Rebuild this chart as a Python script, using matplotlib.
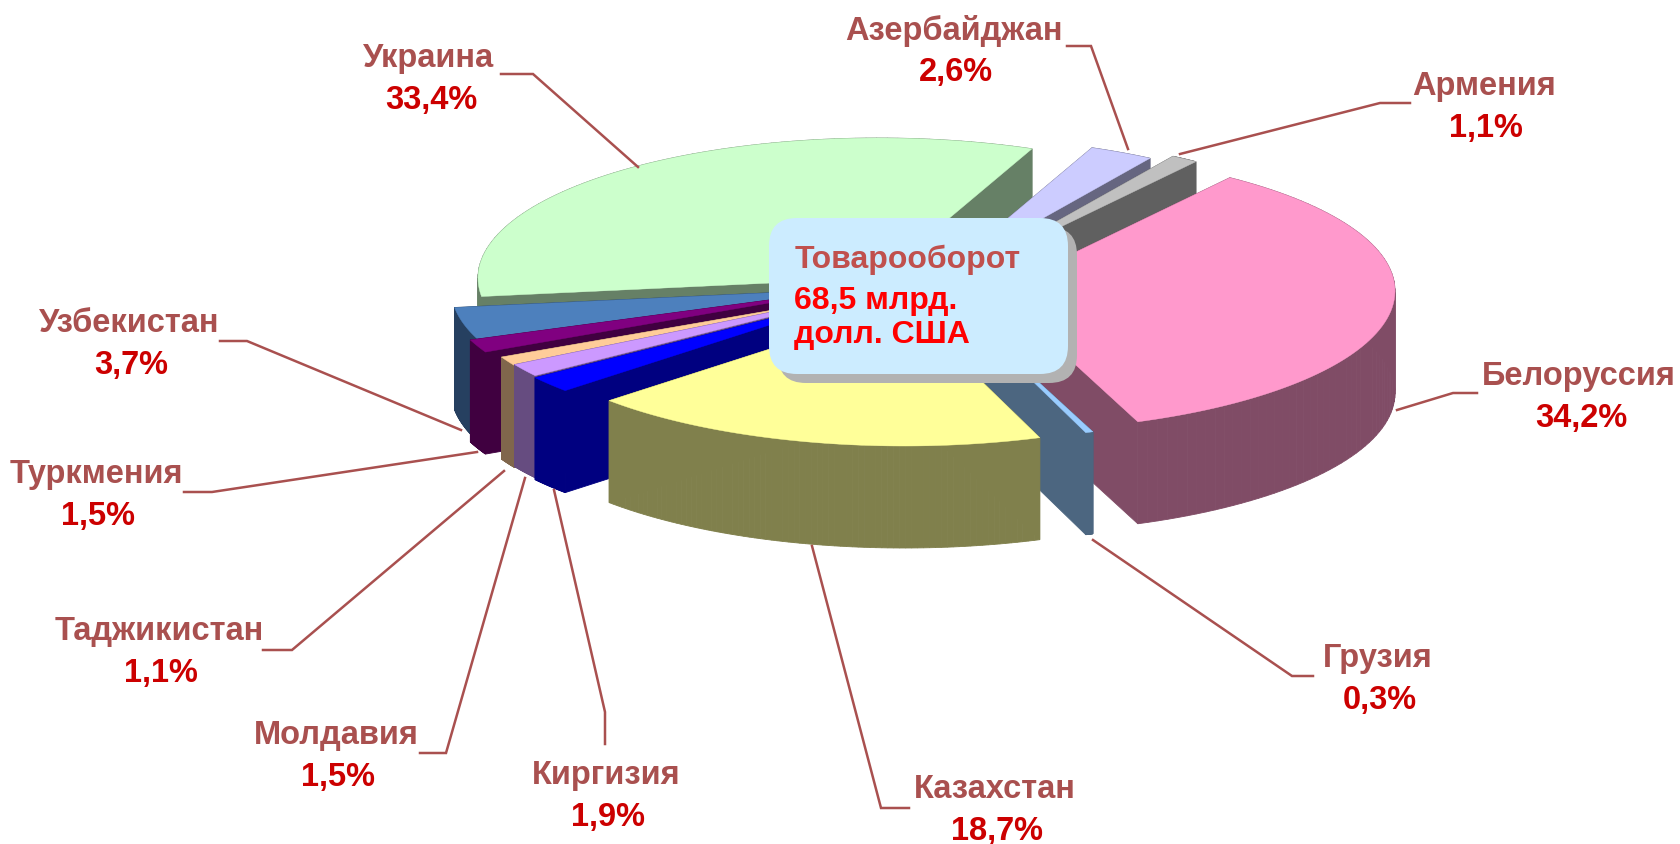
import numpy as np
import matplotlib
matplotlib.use("Agg")
import matplotlib.pyplot as plt
from matplotlib.patches import FancyBboxPatch

plt.rcParams['font.family'] = ['Liberation Sans', 'DejaVu Sans']

# Trade turnover shares, clockwise from Armenia
countries = ["Армения", "Белоруссия", "Грузия", "Казахстан", "Киргизия", "Молдавия",
             "Таджикистан", "Туркмения", "Узбекистан", "Украина", "Азербайджан"]
shares = [1.1, 34.2, 0.3, 18.7, 1.9, 1.5, 1.1, 1.5, 3.7, 33.4, 2.6]
total_title = "Товарооборот"
total_lines = "68,5 млрд.\nдолл. США"

# Styling
top_colors = ["#C0C0C0", "#FF99CC", "#99CCFF", "#FFFF99", "#0000FF", "#CC99FF",
              "#FFCC99", "#800080", "#4D80BD", "#CCFFCC", "#CCCCFF"]
side_colors = ["#606060", "#804C66", "#4C6680", "#80804C", "#000080", "#664C80",
               "#80664C", "#400040", "#264060", "#668066", "#666680"]
# where each exploded slice sits (apex, pixels)
apex = [(961, 276), (995, 292), (950, 302), (904, 307), (860, 297), (860, 295),
        (860, 296), (844, 291), (851, 290), (878, 279), (938, 278)]
# back to front
draw_order = [9, 10, 0, 1, 2, 8, 7, 6, 5, 4, 3]
label_pos = [(1484, 86), (1579, 377), (1378, 659), (995, 790), (606, 776), (336, 736),
             (159, 632), (96, 475), (129, 324), (429, 58), (954, 31)]
leaders = [
    [(1410, 104), (1380, 104), (1180, 155)],
    [(1477, 394), (1453, 394), (1397, 411)],
    [(1313, 677), (1292, 677), (1093, 541)],
    [(909, 809), (881, 809), (812, 547)],
    [(605, 745), (605, 713), (554, 491)],
    [(420, 754), (446, 754), (525, 479)],
    [(263, 651), (292, 651), (504, 472)],
    [(184, 493), (212, 493), (477, 453)],
    [(220, 342), (247, 342), (461, 431)],
    [(501, 75), (533, 75), (638, 168)],
    [(1067, 47), (1091, 47), (1128, 150)],
]
RX, RY, DEPTH = 400, 140, 102
START = 58
LABEL_COLOR = "#A9504F"
VALUE_COLOR = "#CC0000"
FS = 23.5

fig = plt.figure(figsize=(16.81, 8.45), dpi=100)
ax = fig.add_axes([0, 0, 1, 1])
ax.set_xlim(0, 1681)
ax.set_ylim(845, 0)
ax.axis("off")

# slice boundaries, going clockwise
ends = START - np.cumsum(shares) * 3.6
starts = np.concatenate([[START], ends[:-1]])

for i in draw_order:
    t = np.radians(np.linspace(starts[i], ends[i], 80))
    cx, cy = apex[i]
    px = np.concatenate([[cx], cx + RX * np.cos(t)])
    py = np.concatenate([[cy], cy - RY * np.sin(t)])
    # side walls: every outline segment pushed down by the depth
    for j in range(len(px)):
        k = (j + 1) % len(px)
        ax.fill([px[j], px[k], px[k], px[j]],
                [py[j], py[k], py[k] + DEPTH, py[j] + DEPTH],
                color=side_colors[i], lw=0.6, zorder=2)
    ax.fill(px, py, color=top_colors[i], lw=0.3, zorder=2)

for pts in leaders:
    xs, ys = zip(*pts)
    ax.plot(xs, ys, color=LABEL_COLOR, lw=1.8, zorder=3, solid_joinstyle="miter")

for name, share, (x, y) in zip(countries, shares, label_pos):
    ax.text(x, y, name, color=LABEL_COLOR, fontsize=FS, fontweight="bold",
            ha="center", va="center", zorder=5)
    ax.text(x + 2, y + 42, f"{share:.1f}%".replace(".", ","), color=VALUE_COLOR, fontsize=FS,
            fontweight="bold", ha="center", va="center", zorder=5)

# callout over the middle of the pie
box = dict(boxstyle="round,pad=0,rounding_size=28", lw=0)
ax.add_patch(FancyBboxPatch((778, 228), 299, 156, fc="#B2B2B2", zorder=6, **box))
ax.add_patch(FancyBboxPatch((769, 219), 299, 156, fc="#CCECFF", zorder=7, **box))
ax.text(795, 260, total_title, color="#C0504D", fontsize=23, fontweight="bold",
        ha="left", va="center", zorder=8)
ax.text(794, 318, total_lines, color="#FF0000", fontsize=23, fontweight="bold",
        ha="left", va="center", linespacing=1.2, zorder=8)

fig.savefig("out.png", dpi=100)
